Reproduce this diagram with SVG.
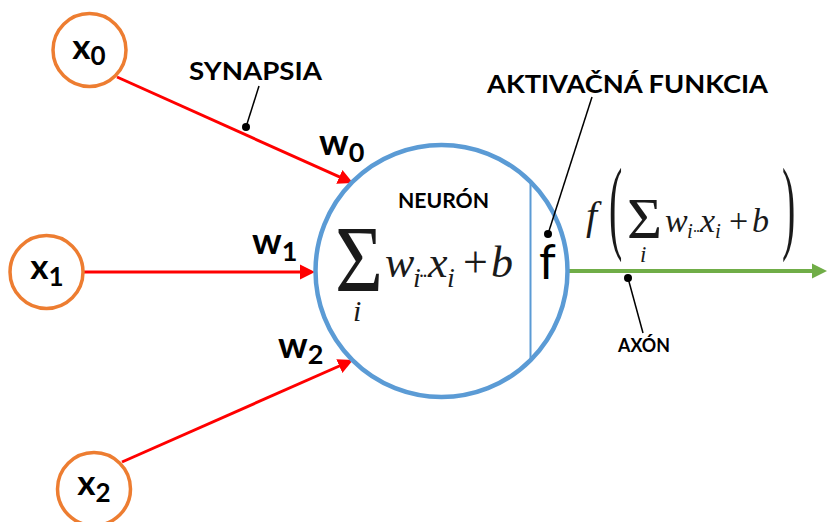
<svg xmlns="http://www.w3.org/2000/svg" width="827" height="522" viewBox="0 0 827 522">
<defs>
<style>
.inp{fill:#fff;stroke:#ED7D31;stroke-width:3.5}
.lbl{font-family:Lato,"Open Sans","Liberation Sans",sans-serif;font-weight:bold;fill:#000}
.syn{stroke:#FF0000;stroke-width:3;fill:none}
.lead{stroke:#000;stroke-width:1.5;fill:none}
.dot{fill:#000}
.m{font-family:"Liberation Serif","DejaVu Serif",serif;fill:#1a1a1a}
.it{font-style:italic}
</style>
<marker id="ar" markerUnits="userSpaceOnUse" markerWidth="20" markerHeight="20" viewBox="0 -10 20 20" refX="5" refY="0" orient="auto">
<path d="M0,-7.5 L15,0 L0,7.5 z" fill="#FF0000"/>
</marker>
<marker id="ag" markerUnits="userSpaceOnUse" markerWidth="20" markerHeight="20" viewBox="0 -10 20 20" refX="5" refY="0" orient="auto">
<path d="M0,-7.5 L15,0 L0,7.5 z" fill="#70AD47"/>
</marker>
</defs>
<rect width="827" height="522" fill="#fff"/>

<g id="connectors">
<line class="syn" x1="117" y1="77" x2="343.9" y2="178.9" marker-end="url(#ar)"/>
<line class="syn" x1="83" y1="272" x2="305" y2="272" marker-end="url(#ar)"/>
<line class="syn" x1="122" y1="462" x2="343.9" y2="364" marker-end="url(#ar)"/>
<line x1="568" y1="271" x2="817" y2="271" stroke="#70AD47" stroke-width="4" marker-end="url(#ag)"/>
</g>

<g id="x0">
<circle class="inp" cx="89.5" cy="50" r="36.5"/>
<text class="lbl" x="89" y="59" text-anchor="middle" font-size="35">x<tspan font-size="26" dy="6">0</tspan></text>
</g>
<g id="x1">
<circle class="inp" cx="46.5" cy="272" r="36.5"/>
<text class="lbl" x="47" y="279" text-anchor="middle" font-size="35">x<tspan font-size="26" dy="7">1</tspan></text>
</g>
<g id="x2">
<circle class="inp" cx="94" cy="489" r="36.5"/>
<text class="lbl" x="94" y="495" text-anchor="middle" font-size="35">x<tspan font-size="26" dy="7">2</tspan></text>
</g>

<g id="weights">
<text class="lbl" x="319" y="155" font-size="37">w<tspan font-size="27" dy="7">0</tspan></text>
<text class="lbl" x="252" y="254" font-size="37">w<tspan font-size="27" dy="7">1</tspan></text>
<text class="lbl" x="278" y="358" font-size="37">w<tspan font-size="27" dy="6">2</tspan></text>
</g>

<g id="neuron">
<circle cx="441.5" cy="271" r="126" fill="#fff" stroke="#5B9BD5" stroke-width="4.5"/>
<line x1="530.5" y1="183" x2="530.5" y2="359" stroke="#5B9BD5" stroke-width="2"/>
<text class="lbl" x="398" y="208" font-size="21" textLength="91" lengthAdjust="spacingAndGlyphs">NEURÓN</text>
<text class="m" x="335" y="292" font-size="96" textLength="48" lengthAdjust="spacingAndGlyphs">Σ</text>
<text class="m it" x="353" y="321" font-size="30">i</text>
<text class="m it" x="385" y="277" font-size="44">w</text>
<text class="m it" x="413" y="287" font-size="28">i</text>
<text class="m" x="419" y="277" font-size="20" letter-spacing="-1.5">..</text>
<text class="m it" x="428" y="277" font-size="44">x</text>
<text class="m it" x="447" y="287" font-size="28">i</text>
<text class="m" x="463" y="277" font-size="44">+</text>
<text class="m it" x="491" y="277" font-size="44">b</text>
<text x="539" y="279" font-family="Lato,'Open Sans',sans-serif" font-size="48" fill="#000">f</text>
</g>

<g id="output-formula">
<text class="m it" x="586" y="229" font-size="40">f</text>
<text class="m" transform="translate(609,240) scale(1,2.6)" font-size="40">(</text>
<text class="m" x="627" y="238" font-size="56" textLength="35" lengthAdjust="spacingAndGlyphs">Σ</text>
<text class="m it" x="640" y="262" font-size="23">i</text>
<text class="m it" x="665" y="232" font-size="34">w</text>
<text class="m it" x="687" y="238" font-size="21">i</text>
<text class="m" x="693" y="232" font-size="16" letter-spacing="-1">..</text>
<text class="m it" x="700" y="232" font-size="34">x</text>
<text class="m it" x="715" y="238" font-size="21">i</text>
<text class="m" x="729" y="232" font-size="34">+</text>
<text class="m it" x="752" y="232" font-size="34">b</text>
<text class="m" transform="translate(782,240) scale(1,2.6)" font-size="40">)</text>
</g>

<g id="synapsia">
<text class="lbl" x="189" y="80" font-size="25" textLength="133" lengthAdjust="spacingAndGlyphs">SYNAPSIA</text>
<line class="lead" x1="259" y1="86" x2="246" y2="127"/>
<circle class="dot" cx="246" cy="127" r="4"/>
</g>

<g id="aktivacna">
<text class="lbl" x="487" y="93" font-size="25" textLength="281" lengthAdjust="spacingAndGlyphs">AKTIVAČNÁ FUNKCIA</text>
<line class="lead" x1="592" y1="97" x2="548" y2="234"/>
<circle class="dot" cx="548" cy="234" r="4"/>
</g>

<g id="axon">
<circle class="dot" cx="628" cy="278" r="4"/>
<line class="lead" x1="628" y1="278" x2="643" y2="333"/>
<text class="lbl" x="618" y="352" font-size="19" textLength="52" lengthAdjust="spacingAndGlyphs">AXÓN</text>
</g>
</svg>
